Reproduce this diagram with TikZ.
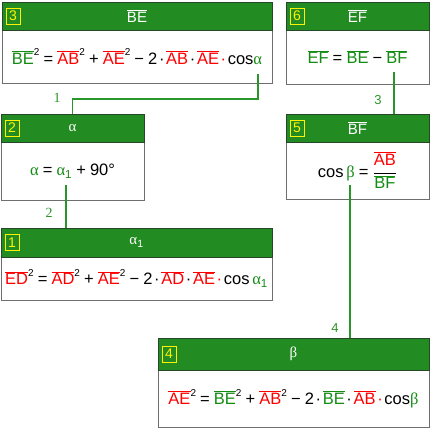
\documentclass[tikz,border=0pt]{standalone}
\usepackage{fontspec}
\setmainfont{Liberation Sans}
\newfontfamily\grk{Liberation Serif}
\usetikzlibrary{calc}
\definecolor{hdrgreen}{RGB}{34,139,34}
\definecolor{tgreen}{RGB}{20,140,20}
\definecolor{lgreen}{RGB}{40,150,40}
\definecolor{tred}{RGB}{255,0,0}
\definecolor{bgray}{RGB}{110,110,110}
\definecolor{hdrline}{RGB}{40,70,40}
\newcommand\ov[2]{\textcolor{#1}{$\overline{\mbox{#2}}$}}
\newcommand\sq{\raisebox{0.5em}{\fontsize{10}{10}\selectfont 2}}
\newcommand\op[1]{\hspace{0.25em}#1\hspace{0.25em}}
\newcommand\md{\hspace{0.1em}·\hspace{0.1em}}
\newcommand\al{{\grk α}}
\newcommand\be{{\grk β}}
\tikzset{
  hdr/.style={draw=hdrline, fill=hdrgreen, line width=0.9pt, inner sep=0pt, text=white,
    font=\fontsize{15}{17}\selectfont},
  bodybox/.style={draw=bgray, fill=white, line width=1pt, inner sep=0pt,
    font=\fontsize{16.5}{18}\selectfont},
  numbox/.style={draw=yellow, text=yellow, line width=0.8pt, minimum width=14pt,
    minimum height=16pt, inner sep=0pt, font=\fontsize{14}{14}\selectfont},
  conn/.style={draw=lgreen, line width=1.6pt},
  clabel/.style={text=lgreen, inner sep=0pt, font=\fontsize{13}{13}\selectfont}
}
\begin{document}
\begin{tikzpicture}[x=1pt,y=-1pt]
\useasboundingbox (0,0) rectangle (430,429);
% box 3
\node[bodybox, minimum width=270pt, minimum height=53pt] (b3) at (137,56.5)
  {\ov{tgreen}{BE}\sq\op{=}\ov{tred}{AB}\sq\op{+}\ov{tred}{AE}\sq\op{−}2\md\ov{tred}{AB}\md\ov{tred}{AE}\textcolor{tred}{\md}cos\textcolor{tgreen}{\al}};
\node[hdr, minimum width=270pt, minimum height=28pt] (h3) at (137,16) {\ov{white}{BE}};
\node[numbox, anchor=west] (n3) at ($(h3.west)+(4,0)$) {3};
% box 6
\node[bodybox, minimum width=143pt, minimum height=54pt] (b6) at (357.5,57)
  {\ov{tgreen}{EF}\op{=}\ov{tgreen}{BE}\op{−}\ov{tgreen}{BF}};
\node[hdr, minimum width=143pt, minimum height=28pt] (h6) at (357.5,16) {\ov{white}{EF}};
\node[numbox, anchor=west] (n6) at ($(h6.west)+(4,0)$) {6};
% box 2
\node[bodybox, minimum width=143pt, minimum height=58pt] (b2) at (72.5,171)
  {\textcolor{tgreen}{\al}\op{=}\textcolor{tgreen}{\al\textsubscript{1}}\op{+}90°};
\node[hdr, minimum width=143pt, minimum height=28pt] (h2) at (72.5,128) {\al};
\node[numbox, anchor=west] (n2) at ($(h2.west)+(4,0)$) {2};
% box 5
\node[bodybox, minimum width=143pt, minimum height=57pt] (b5) at (357.5,170.5)
  {cos\,\textcolor{tgreen}{\be}\op{=}$\displaystyle\frac{\mbox{\ov{tred}{AB}}}{\mbox{\ov{tgreen}{BF}}}$};
\node[hdr, minimum width=143pt, minimum height=28pt] (h5) at (357.5,128) {\ov{white}{BF}};
\node[numbox, anchor=west] (n5) at ($(h5.west)+(4,0)$) {5};
% box 1
\node[bodybox, minimum width=271pt, minimum height=43pt] (b1) at (136.5,278.5)
  {\ov{tred}{ED}\sq\op{=}\ov{tred}{AD}\sq\op{+}\ov{tred}{AE}\sq\op{−}2\md\ov{tred}{AD}\md\ov{tred}{AE}\textcolor{tred}{\md}cos\,\textcolor{tgreen}{\al\textsubscript{1}}};
\node[hdr, minimum width=271pt, minimum height=29pt] (h1) at (136.5,242.5) {\al\textsubscript{1}};
\node[numbox, anchor=west] (n1) at ($(h1.west)+(4,0)$) {1};
% box 4
\node[bodybox, minimum width=271pt, minimum height=57pt] (b4) at (293.5,398.5)
  {\ov{tred}{AE}\sq\op{=}\ov{tgreen}{BE}\sq\op{+}\ov{tred}{AB}\sq\op{−}2\md\ov{tgreen}{BE}\md\ov{tred}{AB}\textcolor{tred}{\md}cos\textcolor{tgreen}{\be}};
\node[hdr, minimum width=271pt, minimum height=32pt] (h4) at (293.5,354) {\be};
\node[numbox, anchor=west] (n4) at ($(h4.west)+(4,0)$) {4};
% connectors
\coordinate (c1s) at (258,74);
\coordinate (c2s) at (66,185);
\coordinate (c3s) at (394,72);
\coordinate (c4s) at (350,185);
\draw[conn] (c1s) -- ++(0,25) -| (h2.north);
\draw[conn] (c2s) -- (c2s |- h1.north);
\draw[conn] (c3s) -- (c3s |- h5.north);
\draw[conn] (c4s) -- (c4s |- h4.north);
\node[clabel, font=\grk\fontsize{14}{14}\selectfont] (l1) at (57,98) {1};
\node[clabel, font=\grk\fontsize{14}{14}\selectfont] (l2) at (49,213) {2};
\node[clabel] (l3) at (378,100) {3};
\node[clabel] (l4) at (335,328) {4};
\end{tikzpicture}
\end{document}
